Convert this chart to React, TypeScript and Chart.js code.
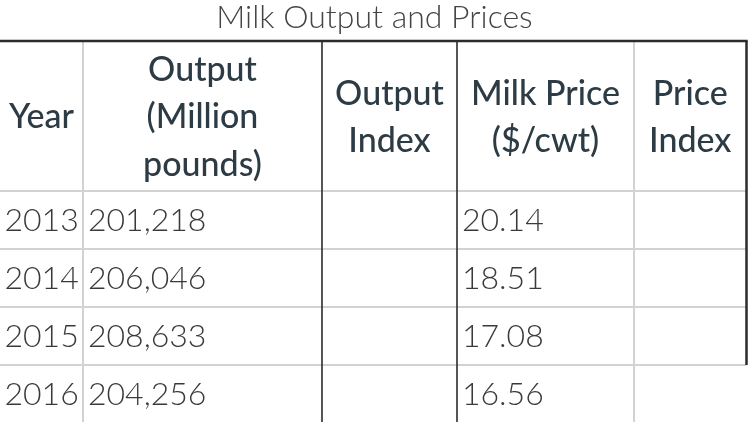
import React, { useEffect, useRef } from "react";
import { Chart, registerables } from "chart.js";

Chart.register(...registerables);

// ---- data ----
const title = "Milk Output and Prices";
const headers = ["Year", "Output\n(Million\npounds)", "Output\nIndex", "Milk Price\n($/cwt)", "Price\nIndex"];
const years = ["2013", "2014", "2015", "2016"];
const outputMillionPounds = [201218, 206046, 208633, 204256];
const outputIndex: (number | null)[] = [null, null, null, null];
const milkPrice = [20.14, 18.51, 17.08, 16.56];
const priceIndex: (number | null)[] = [null, null, null, null];

// ---- layout (table units) ----
const colEdges = [0, 83, 322, 457, 634, 746.5];
const colRule = ["gray", "dark", "dark", "gray"]; // rule at left edge of columns 1..4
const headerHeight = 150;
const rowHeight = 58;
const borderedRows = 3; // right border spans header + first rows
const DARK = "#2b2b2b";
const GRAY = "#d2d2d2";

function formatCell(col: number, i: number): string {
  if (col === 0) return years[i];
  if (col === 1) return outputMillionPounds[i].toLocaleString("en-US");
  if (col === 2) return outputIndex[i] == null ? "" : String(outputIndex[i]);
  if (col === 3) return milkPrice[i].toFixed(2);
  return priceIndex[i] == null ? "" : String(priceIndex[i]);
}

const tablePlugin = {
  id: "tableDraw",
  afterDraw(chart: any) {
    const { ctx, scales } = chart;
    const xs = scales.x;
    const ys = scales.y;
    const X = (v: number) => xs.getPixelForValue(v);
    const Y = (v: number) => ys.getPixelForValue(v);
    const nRows = years.length;
    const rowEdges = [0, headerHeight];
    for (let i = 0; i < nRows; i++) rowEdges.push(headerHeight + rowHeight * (i + 1));
    const bottom = rowEdges[rowEdges.length - 1];
    const right = colEdges[colEdges.length - 1];

    ctx.save();
    // horizontal gray rules
    ctx.strokeStyle = GRAY;
    ctx.lineWidth = 2;
    for (let r = 1; r < rowEdges.length - 1; r++) {
      ctx.beginPath();
      ctx.moveTo(X(0), Y(rowEdges[r]));
      ctx.lineTo(X(right), Y(rowEdges[r]));
      ctx.stroke();
    }
    // vertical rules
    for (let c = 1; c < colEdges.length - 1; c++) {
      const dark = colRule[c - 1] === "dark";
      ctx.strokeStyle = dark ? DARK : GRAY;
      ctx.lineWidth = dark ? 1.6 : 2;
      ctx.beginPath();
      ctx.moveTo(X(colEdges[c]), Y(0));
      ctx.lineTo(X(colEdges[c]), Y(bottom));
      ctx.stroke();
    }
    // right border
    ctx.strokeStyle = DARK;
    ctx.lineWidth = 2.5;
    ctx.beginPath();
    ctx.moveTo(X(right), Y(0));
    ctx.lineTo(X(right), Y(rowEdges[borderedRows + 1]));
    ctx.stroke();
    // top border
    ctx.lineWidth = 2.5;
    ctx.beginPath();
    ctx.moveTo(X(0), Y(0));
    ctx.lineTo(X(right + 1.2), Y(0));
    ctx.stroke();

    // header text
    ctx.fillStyle = "#2d3b45";
    ctx.font = "500 34px Lato";
    ctx.textAlign = "center";
    ctx.textBaseline = "middle";
    const lh = 47.5;
    headers.forEach((h, c) => {
      const lines = h.split("\n");
      const cx = (X(colEdges[c]) + X(colEdges[c + 1])) / 2;
      const cy = (Y(0) + Y(headerHeight)) / 2 + 1.5;
      lines.forEach((ln, k) => {
        ctx.fillText(ln, cx, cy + (k - (lines.length - 1) / 2) * lh);
      });
    });

    // body text
    ctx.fillStyle = "#3a3a3a";
    ctx.font = "300 32px Lato";
    ctx.textAlign = "left";
    for (let i = 0; i < nRows; i++) {
      const cy = (Y(rowEdges[i + 1]) + Y(rowEdges[i + 2])) / 2 + 0.5;
      for (let c = 0; c < headers.length; c++) {
        const txt = formatCell(c, i);
        if (!txt) continue;
        ctx.fillText(txt, X(colEdges[c]) + (c === 0 ? 4.5 : 5), cy);
      }
    }
    ctx.restore();
  },
};

export default function App() {
  const ref = useRef<HTMLCanvasElement | null>(null);
  useEffect(() => {
    document.body.style.margin = "0";
    const chart = new Chart(ref.current as HTMLCanvasElement, {
      type: "scatter",
      data: { datasets: [] },
      options: {
        animation: false,
        responsive: false,
        layout: { padding: 0 },
        scales: {
          x: { type: "linear", min: 0, max: 749, display: false },
          y: { type: "linear", min: 0, max: 381, reverse: true, display: false },
        },
        plugins: {
          legend: { display: false },
          tooltip: { enabled: false },
          title: {
            display: true,
            text: title,
            color: "#444",
            font: { family: "Lato", size: 32, weight: "300" as any, lineHeight: 1.1 },
            padding: { top: 0, bottom: 5.8 },
          },
        },
      },
      plugins: [tablePlugin],
    });
    return () => chart.destroy();
  }, []);
  return (
    <div style={{ position: "absolute", left: 0, top: 0, width: 749, height: 422, background: "#fff" }}>
      <canvas ref={ref} width={749} height={422} />
    </div>
  );
}
